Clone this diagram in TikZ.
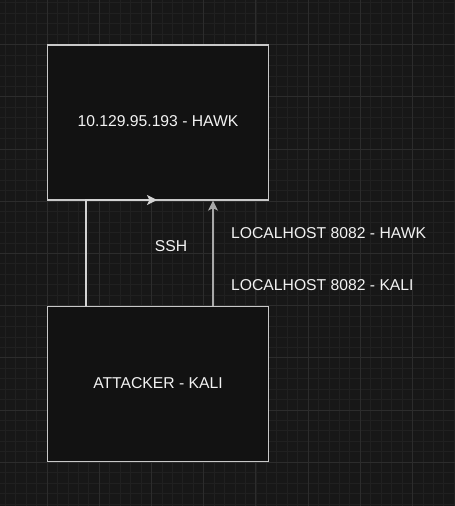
\documentclass[tikz,border=0pt]{standalone}
\usepackage{fontspec}
\setmainfont{Liberation Sans}
\usetikzlibrary{positioning}
\usetikzlibrary{arrows.meta}
\definecolor{bgdark}{HTML}{171717}
\definecolor{boxfill}{HTML}{121212}
\definecolor{boxline}{HTML}{C8C8C8}
\definecolor{gridminor}{HTML}{202020}
\definecolor{gridmajor}{HTML}{2C2C2C}
\definecolor{txtwhite}{HTML}{F2F2F2}
\definecolor{arrgray}{HTML}{A8A8A8}
\tikzset{
    hostbox/.style = {rectangle, line width=1.3pt, draw=boxline, fill=boxfill, minimum width=221pt, minimum height=155pt, text=txtwhite},
    lbl/.style = {text=txtwhite, inner sep=0pt},
    edgew/.style = {-{Stealth[length=10pt,width=10pt,inset=2.5pt]}, line width=1.4pt, draw=boxline!80!white},
    edgeg/.style = {-{Stealth[length=10pt,width=10pt,inset=2.5pt]}, line width=1.4pt, draw=arrgray, fill=arrgray},
    every picture/.style={font issue=\fontsize{15.7}{18}},
    font issue/.style={execute at begin picture={#1\selectfont}
  }
}

\begin{document}
\begin{tikzpicture}[x=1pt,y=-1pt]
%
\fill[bgdark] (0,0) rectangle (455,506);
\useasboundingbox (0,0) rectangle (455,506);
\begin{scope}[shift={(47,44.5)}]
\draw[gridminor, line width=0.6pt, step=10.44pt] (-47,-44.5) grid (408,461.5);
\draw[gridmajor, line width=0.8pt, step=52.2pt] (-47,-44.5) grid (408,461.5);
\end{scope}
%
\node[hostbox] at (158,122.5) (hawk) {};
\node[hostbox] at (158,384) (attacker) {};
\node[lbl] at (158,121.5) (hawkname) {10.129.95.193 - HAWK};
\node[lbl] at (158,383) (attackername) {ATTACKER - KALI};
%
\coordinate (sshend) at (157,200);
\draw[edgew] (86,0 |- attacker.north) |- (sshend);
\draw[edgeg] (213,0 |- attacker.north) -- (213,0 |- hawk.south);
%
\node[lbl] at (171,246) (ssh) {SSH};
\node[lbl, anchor=west] at (231,233) (fwdhawk) {LOCALHOST 8082 - HAWK};
\node[lbl, anchor=west] at (231,285.5) (fwdkali) {LOCALHOST 8082 - KALI};

\end{tikzpicture}
\end{document}
